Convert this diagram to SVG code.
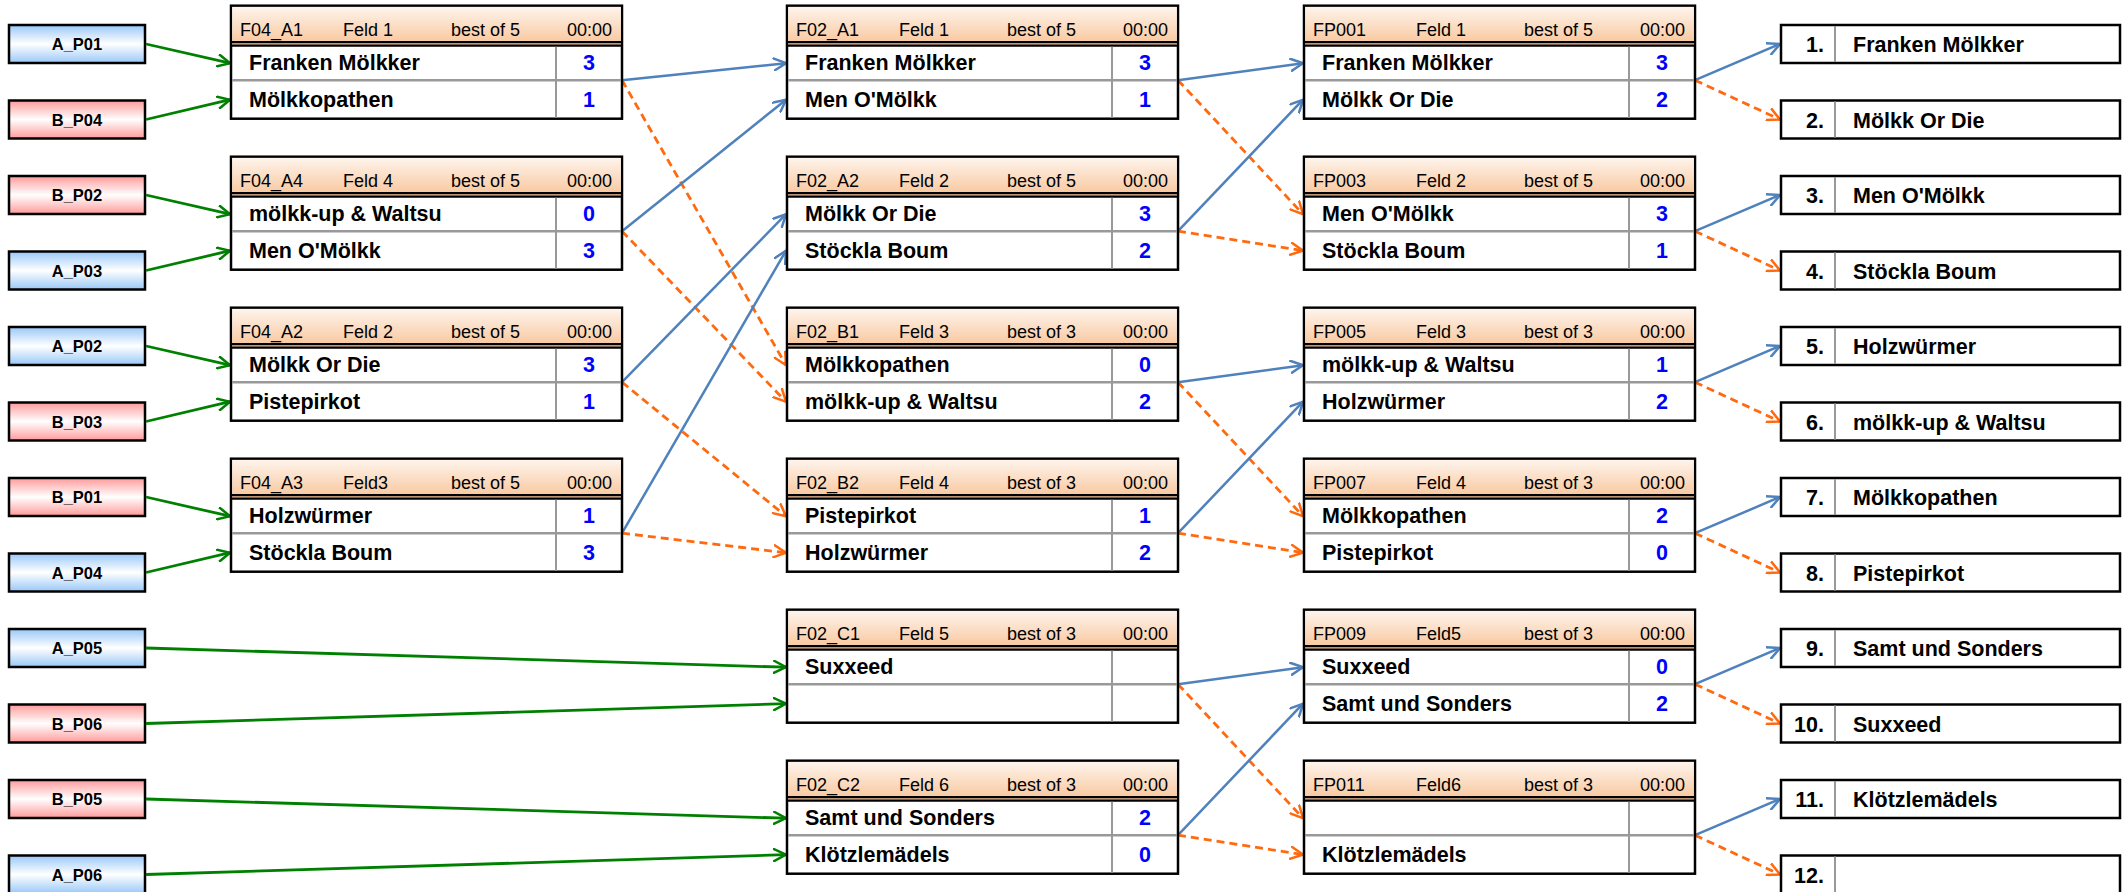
<svg xmlns="http://www.w3.org/2000/svg" width="2127" height="892" viewBox="0 0 2127 892">
<defs>
<linearGradient id="gHdr" x1="0" y1="0" x2="0" y2="1"><stop offset="0" stop-color="#fef4ec"/><stop offset="1" stop-color="#f8c59a"/></linearGradient>
<linearGradient id="gA" x1="0" y1="0" x2="0" y2="1"><stop offset="0" stop-color="#99c8f8"/><stop offset="0.5" stop-color="#ffffff"/><stop offset="1" stop-color="#99c8f8"/></linearGradient>
<linearGradient id="gB" x1="0" y1="0" x2="0" y2="1"><stop offset="0" stop-color="#ff9a9a"/><stop offset="0.5" stop-color="#ffffff"/><stop offset="1" stop-color="#ff9a9a"/></linearGradient>
<marker id="mG" viewBox="0 0 14 14" refX="13" refY="7" markerWidth="14" markerHeight="14" markerUnits="userSpaceOnUse" orient="auto"><path d="M0,0.5 L13,7 L0,13.5" fill="none" stroke="#008000" stroke-width="2.5"/></marker>
<marker id="mB" viewBox="0 0 14 14" refX="13" refY="7" markerWidth="14" markerHeight="14" markerUnits="userSpaceOnUse" orient="auto"><path d="M0,0.5 L13,7 L0,13.5" fill="none" stroke="#4f81bd" stroke-width="2.5"/></marker>
<marker id="mO" viewBox="0 0 14 14" refX="13" refY="7" markerWidth="14" markerHeight="14" markerUnits="userSpaceOnUse" orient="auto"><path d="M0,0.5 L13,7 L0,13.5" fill="none" stroke="#ff6a10" stroke-width="2.5" stroke-dasharray="none"/></marker>
</defs>
<style>
text{font-family:"Liberation Sans",Arial,sans-serif;fill:#000}
.h{font-size:18px}
.t{font-size:21.5px;font-weight:bold}
.s{font-size:21.5px;font-weight:bold;fill:#0000ff;text-anchor:middle}
.in{font-size:16.5px;font-weight:bold;text-anchor:middle}
.r{text-anchor:end}
.box{fill:#fff;stroke:#000;stroke-width:2.5}
.hdr{fill:url(#gHdr)}
.bl{stroke:#000;stroke-width:2.2}
.gl{stroke:#999;stroke-width:2.5}
.gv{stroke:#999;stroke-width:2}
.ia{fill:url(#gA);stroke:#000;stroke-width:2.5}
.ib{fill:url(#gB);stroke:#000;stroke-width:2.5}
.cg{stroke:#008000;stroke-width:2.8;fill:none;marker-end:url(#mG)}
.cb{stroke:#4f81bd;stroke-width:2.5;fill:none;marker-end:url(#mB)}
.co{stroke:#ff6a10;stroke-width:2.8;fill:none;stroke-dasharray:8,5;marker-end:url(#mO)}
</style>
<rect width="2127" height="892" fill="#fff"/>

<g id="inputs">
<g id="A_P01"><rect class="ia" x="9" y="25" width="136" height="38"/><text class="in" x="77" y="50">A_P01</text></g>
<g id="B_P04"><rect class="ib" x="9" y="100.5" width="136" height="38"/><text class="in" x="77" y="125.5">B_P04</text></g>
<g id="B_P02"><rect class="ib" x="9" y="176" width="136" height="38"/><text class="in" x="77" y="201">B_P02</text></g>
<g id="A_P03"><rect class="ia" x="9" y="251.5" width="136" height="38"/><text class="in" x="77" y="276.5">A_P03</text></g>
<g id="A_P02"><rect class="ia" x="9" y="327" width="136" height="38"/><text class="in" x="77" y="352">A_P02</text></g>
<g id="B_P03"><rect class="ib" x="9" y="402.5" width="136" height="38"/><text class="in" x="77" y="427.5">B_P03</text></g>
<g id="B_P01"><rect class="ib" x="9" y="478" width="136" height="38"/><text class="in" x="77" y="503">B_P01</text></g>
<g id="A_P04"><rect class="ia" x="9" y="553.5" width="136" height="38"/><text class="in" x="77" y="578.5">A_P04</text></g>
<g id="A_P05"><rect class="ia" x="9" y="629" width="136" height="38"/><text class="in" x="77" y="654">A_P05</text></g>
<g id="B_P06"><rect class="ib" x="9" y="704.5" width="136" height="38"/><text class="in" x="77" y="729.5">B_P06</text></g>
<g id="B_P05"><rect class="ib" x="9" y="780" width="136" height="38"/><text class="in" x="77" y="805">B_P05</text></g>
<g id="A_P06"><rect class="ia" x="9" y="855.5" width="136" height="38"/><text class="in" x="77" y="880.5">A_P06</text></g>
</g>

<g id="connectors">
<line class="cg" x1="146" y1="44" x2="230" y2="63.2"/>
<line class="cg" x1="146" y1="119.5" x2="230" y2="99.7"/>
<line class="cg" x1="146" y1="195" x2="230" y2="214.2"/>
<line class="cg" x1="146" y1="270.5" x2="230" y2="250.7"/>
<line class="cg" x1="146" y1="346" x2="230" y2="365.2"/>
<line class="cg" x1="146" y1="421.5" x2="230" y2="401.7"/>
<line class="cg" x1="146" y1="497" x2="230" y2="516.2"/>
<line class="cg" x1="146" y1="572.5" x2="230" y2="552.7"/>
<line class="cg" x1="146" y1="648" x2="786" y2="667.2"/>
<line class="cg" x1="146" y1="723.5" x2="786" y2="703.7"/>
<line class="cg" x1="146" y1="799" x2="786" y2="818.2"/>
<line class="cg" x1="146" y1="874.5" x2="786" y2="854.7"/>

<line class="cb" x1="622" y1="80.2" x2="786" y2="63.2"/>
<line class="co" x1="622" y1="80.2" x2="786" y2="365.2"/>
<line class="cb" x1="622" y1="231.2" x2="786" y2="99.7"/>
<line class="co" x1="622" y1="231.2" x2="786" y2="401.7"/>
<line class="cb" x1="622" y1="382.2" x2="786" y2="214.2"/>
<line class="co" x1="622" y1="382.2" x2="786" y2="516.2"/>
<line class="cb" x1="622" y1="533.2" x2="786" y2="250.7"/>
<line class="co" x1="622" y1="533.2" x2="786" y2="552.7"/>

<line class="cb" x1="1178" y1="80.2" x2="1303" y2="63.2"/>
<line class="co" x1="1178" y1="80.2" x2="1303" y2="214.2"/>
<line class="cb" x1="1178" y1="231.2" x2="1303" y2="99.7"/>
<line class="co" x1="1178" y1="231.2" x2="1303" y2="250.7"/>
<line class="cb" x1="1178" y1="382.2" x2="1303" y2="365.2"/>
<line class="co" x1="1178" y1="382.2" x2="1303" y2="516.2"/>
<line class="cb" x1="1178" y1="533.2" x2="1303" y2="401.7"/>
<line class="co" x1="1178" y1="533.2" x2="1303" y2="552.7"/>
<line class="cb" x1="1178" y1="684.2" x2="1303" y2="667.2"/>
<line class="co" x1="1178" y1="684.2" x2="1303" y2="818.2"/>
<line class="cb" x1="1178" y1="835.2" x2="1303" y2="703.7"/>
<line class="co" x1="1178" y1="835.2" x2="1303" y2="854.7"/>

<line class="cb" x1="1695" y1="80.2" x2="1780" y2="44"/>
<line class="co" x1="1695" y1="80.2" x2="1780" y2="119.5"/>
<line class="cb" x1="1695" y1="231.2" x2="1780" y2="195"/>
<line class="co" x1="1695" y1="231.2" x2="1780" y2="270.5"/>
<line class="cb" x1="1695" y1="382.2" x2="1780" y2="346"/>
<line class="co" x1="1695" y1="382.2" x2="1780" y2="421.5"/>
<line class="cb" x1="1695" y1="533.2" x2="1780" y2="497"/>
<line class="co" x1="1695" y1="533.2" x2="1780" y2="572.5"/>
<line class="cb" x1="1695" y1="684.2" x2="1780" y2="648"/>
<line class="co" x1="1695" y1="684.2" x2="1780" y2="723.5"/>
<line class="cb" x1="1695" y1="835.2" x2="1780" y2="799"/>
<line class="co" x1="1695" y1="835.2" x2="1780" y2="874.5"/>
</g>

<g id="F04_A1" transform="translate(231,5.7)">
<rect class="box" x="0" y="0" width="391" height="113"/><rect class="hdr" x="1.2" y="1.2" width="388.6" height="38.5"/>
<line class="bl" x1="0" y1="36.5" x2="391" y2="36.5"/><line class="bl" x1="0" y1="40" x2="391" y2="40"/>
<line class="gl" x1="1" y1="74.5" x2="390" y2="74.5"/><line class="gv" x1="325" y1="41" x2="325" y2="112"/>
<text class="h" x="9" y="30">F04_A1</text><text class="h" x="112" y="30">Feld 1</text><text class="h" x="220" y="30">best of 5</text><text class="h r" x="381" y="30">00:00</text>
<text class="t" x="18" y="64">Franken Mölkker</text><text class="s" x="358" y="64">3</text>
<text class="t" x="18" y="101.5">Mölkkopathen</text><text class="s" x="358" y="101.5">1</text>
</g>
<g id="F04_A4" transform="translate(231,156.7)">
<rect class="box" x="0" y="0" width="391" height="113"/><rect class="hdr" x="1.2" y="1.2" width="388.6" height="38.5"/>
<line class="bl" x1="0" y1="36.5" x2="391" y2="36.5"/><line class="bl" x1="0" y1="40" x2="391" y2="40"/>
<line class="gl" x1="1" y1="74.5" x2="390" y2="74.5"/><line class="gv" x1="325" y1="41" x2="325" y2="112"/>
<text class="h" x="9" y="30">F04_A4</text><text class="h" x="112" y="30">Feld 4</text><text class="h" x="220" y="30">best of 5</text><text class="h r" x="381" y="30">00:00</text>
<text class="t" x="18" y="64">mölkk-up &amp; Waltsu</text><text class="s" x="358" y="64">0</text>
<text class="t" x="18" y="101.5">Men O'Mölkk</text><text class="s" x="358" y="101.5">3</text>
</g>
<g id="F04_A2" transform="translate(231,307.7)">
<rect class="box" x="0" y="0" width="391" height="113"/><rect class="hdr" x="1.2" y="1.2" width="388.6" height="38.5"/>
<line class="bl" x1="0" y1="36.5" x2="391" y2="36.5"/><line class="bl" x1="0" y1="40" x2="391" y2="40"/>
<line class="gl" x1="1" y1="74.5" x2="390" y2="74.5"/><line class="gv" x1="325" y1="41" x2="325" y2="112"/>
<text class="h" x="9" y="30">F04_A2</text><text class="h" x="112" y="30">Feld 2</text><text class="h" x="220" y="30">best of 5</text><text class="h r" x="381" y="30">00:00</text>
<text class="t" x="18" y="64">Mölkk Or Die</text><text class="s" x="358" y="64">3</text>
<text class="t" x="18" y="101.5">Pistepirkot</text><text class="s" x="358" y="101.5">1</text>
</g>
<g id="F04_A3" transform="translate(231,458.7)">
<rect class="box" x="0" y="0" width="391" height="113"/><rect class="hdr" x="1.2" y="1.2" width="388.6" height="38.5"/>
<line class="bl" x1="0" y1="36.5" x2="391" y2="36.5"/><line class="bl" x1="0" y1="40" x2="391" y2="40"/>
<line class="gl" x1="1" y1="74.5" x2="390" y2="74.5"/><line class="gv" x1="325" y1="41" x2="325" y2="112"/>
<text class="h" x="9" y="30">F04_A3</text><text class="h" x="112" y="30">Feld3</text><text class="h" x="220" y="30">best of 5</text><text class="h r" x="381" y="30">00:00</text>
<text class="t" x="18" y="64">Holzwürmer</text><text class="s" x="358" y="64">1</text>
<text class="t" x="18" y="101.5">Stöckla Boum</text><text class="s" x="358" y="101.5">3</text>
</g>

<g id="F02_A1" transform="translate(787,5.7)">
<rect class="box" x="0" y="0" width="391" height="113"/><rect class="hdr" x="1.2" y="1.2" width="388.6" height="38.5"/>
<line class="bl" x1="0" y1="36.5" x2="391" y2="36.5"/><line class="bl" x1="0" y1="40" x2="391" y2="40"/>
<line class="gl" x1="1" y1="74.5" x2="390" y2="74.5"/><line class="gv" x1="325" y1="41" x2="325" y2="112"/>
<text class="h" x="9" y="30">F02_A1</text><text class="h" x="112" y="30">Feld 1</text><text class="h" x="220" y="30">best of 5</text><text class="h r" x="381" y="30">00:00</text>
<text class="t" x="18" y="64">Franken Mölkker</text><text class="s" x="358" y="64">3</text>
<text class="t" x="18" y="101.5">Men O'Mölkk</text><text class="s" x="358" y="101.5">1</text>
</g>
<g id="F02_A2" transform="translate(787,156.7)">
<rect class="box" x="0" y="0" width="391" height="113"/><rect class="hdr" x="1.2" y="1.2" width="388.6" height="38.5"/>
<line class="bl" x1="0" y1="36.5" x2="391" y2="36.5"/><line class="bl" x1="0" y1="40" x2="391" y2="40"/>
<line class="gl" x1="1" y1="74.5" x2="390" y2="74.5"/><line class="gv" x1="325" y1="41" x2="325" y2="112"/>
<text class="h" x="9" y="30">F02_A2</text><text class="h" x="112" y="30">Feld 2</text><text class="h" x="220" y="30">best of 5</text><text class="h r" x="381" y="30">00:00</text>
<text class="t" x="18" y="64">Mölkk Or Die</text><text class="s" x="358" y="64">3</text>
<text class="t" x="18" y="101.5">Stöckla Boum</text><text class="s" x="358" y="101.5">2</text>
</g>
<g id="F02_B1" transform="translate(787,307.7)">
<rect class="box" x="0" y="0" width="391" height="113"/><rect class="hdr" x="1.2" y="1.2" width="388.6" height="38.5"/>
<line class="bl" x1="0" y1="36.5" x2="391" y2="36.5"/><line class="bl" x1="0" y1="40" x2="391" y2="40"/>
<line class="gl" x1="1" y1="74.5" x2="390" y2="74.5"/><line class="gv" x1="325" y1="41" x2="325" y2="112"/>
<text class="h" x="9" y="30">F02_B1</text><text class="h" x="112" y="30">Feld 3</text><text class="h" x="220" y="30">best of 3</text><text class="h r" x="381" y="30">00:00</text>
<text class="t" x="18" y="64">Mölkkopathen</text><text class="s" x="358" y="64">0</text>
<text class="t" x="18" y="101.5">mölkk-up &amp; Waltsu</text><text class="s" x="358" y="101.5">2</text>
</g>
<g id="F02_B2" transform="translate(787,458.7)">
<rect class="box" x="0" y="0" width="391" height="113"/><rect class="hdr" x="1.2" y="1.2" width="388.6" height="38.5"/>
<line class="bl" x1="0" y1="36.5" x2="391" y2="36.5"/><line class="bl" x1="0" y1="40" x2="391" y2="40"/>
<line class="gl" x1="1" y1="74.5" x2="390" y2="74.5"/><line class="gv" x1="325" y1="41" x2="325" y2="112"/>
<text class="h" x="9" y="30">F02_B2</text><text class="h" x="112" y="30">Feld 4</text><text class="h" x="220" y="30">best of 3</text><text class="h r" x="381" y="30">00:00</text>
<text class="t" x="18" y="64">Pistepirkot</text><text class="s" x="358" y="64">1</text>
<text class="t" x="18" y="101.5">Holzwürmer</text><text class="s" x="358" y="101.5">2</text>
</g>
<g id="F02_C1" transform="translate(787,609.7)">
<rect class="box" x="0" y="0" width="391" height="113"/><rect class="hdr" x="1.2" y="1.2" width="388.6" height="38.5"/>
<line class="bl" x1="0" y1="36.5" x2="391" y2="36.5"/><line class="bl" x1="0" y1="40" x2="391" y2="40"/>
<line class="gl" x1="1" y1="74.5" x2="390" y2="74.5"/><line class="gv" x1="325" y1="41" x2="325" y2="112"/>
<text class="h" x="9" y="30">F02_C1</text><text class="h" x="112" y="30">Feld 5</text><text class="h" x="220" y="30">best of 3</text><text class="h r" x="381" y="30">00:00</text>
<text class="t" x="18" y="64">Suxxeed</text>
</g>
<g id="F02_C2" transform="translate(787,760.7)">
<rect class="box" x="0" y="0" width="391" height="113"/><rect class="hdr" x="1.2" y="1.2" width="388.6" height="38.5"/>
<line class="bl" x1="0" y1="36.5" x2="391" y2="36.5"/><line class="bl" x1="0" y1="40" x2="391" y2="40"/>
<line class="gl" x1="1" y1="74.5" x2="390" y2="74.5"/><line class="gv" x1="325" y1="41" x2="325" y2="112"/>
<text class="h" x="9" y="30">F02_C2</text><text class="h" x="112" y="30">Feld 6</text><text class="h" x="220" y="30">best of 3</text><text class="h r" x="381" y="30">00:00</text>
<text class="t" x="18" y="64">Samt und Sonders</text><text class="s" x="358" y="64">2</text>
<text class="t" x="18" y="101.5">Klötzlemädels</text><text class="s" x="358" y="101.5">0</text>
</g>

<g id="FP001" transform="translate(1304,5.7)">
<rect class="box" x="0" y="0" width="391" height="113"/><rect class="hdr" x="1.2" y="1.2" width="388.6" height="38.5"/>
<line class="bl" x1="0" y1="36.5" x2="391" y2="36.5"/><line class="bl" x1="0" y1="40" x2="391" y2="40"/>
<line class="gl" x1="1" y1="74.5" x2="390" y2="74.5"/><line class="gv" x1="325" y1="41" x2="325" y2="112"/>
<text class="h" x="9" y="30">FP001</text><text class="h" x="112" y="30">Feld 1</text><text class="h" x="220" y="30">best of 5</text><text class="h r" x="381" y="30">00:00</text>
<text class="t" x="18" y="64">Franken Mölkker</text><text class="s" x="358" y="64">3</text>
<text class="t" x="18" y="101.5">Mölkk Or Die</text><text class="s" x="358" y="101.5">2</text>
</g>
<g id="FP003" transform="translate(1304,156.7)">
<rect class="box" x="0" y="0" width="391" height="113"/><rect class="hdr" x="1.2" y="1.2" width="388.6" height="38.5"/>
<line class="bl" x1="0" y1="36.5" x2="391" y2="36.5"/><line class="bl" x1="0" y1="40" x2="391" y2="40"/>
<line class="gl" x1="1" y1="74.5" x2="390" y2="74.5"/><line class="gv" x1="325" y1="41" x2="325" y2="112"/>
<text class="h" x="9" y="30">FP003</text><text class="h" x="112" y="30">Feld 2</text><text class="h" x="220" y="30">best of 5</text><text class="h r" x="381" y="30">00:00</text>
<text class="t" x="18" y="64">Men O'Mölkk</text><text class="s" x="358" y="64">3</text>
<text class="t" x="18" y="101.5">Stöckla Boum</text><text class="s" x="358" y="101.5">1</text>
</g>
<g id="FP005" transform="translate(1304,307.7)">
<rect class="box" x="0" y="0" width="391" height="113"/><rect class="hdr" x="1.2" y="1.2" width="388.6" height="38.5"/>
<line class="bl" x1="0" y1="36.5" x2="391" y2="36.5"/><line class="bl" x1="0" y1="40" x2="391" y2="40"/>
<line class="gl" x1="1" y1="74.5" x2="390" y2="74.5"/><line class="gv" x1="325" y1="41" x2="325" y2="112"/>
<text class="h" x="9" y="30">FP005</text><text class="h" x="112" y="30">Feld 3</text><text class="h" x="220" y="30">best of 3</text><text class="h r" x="381" y="30">00:00</text>
<text class="t" x="18" y="64">mölkk-up &amp; Waltsu</text><text class="s" x="358" y="64">1</text>
<text class="t" x="18" y="101.5">Holzwürmer</text><text class="s" x="358" y="101.5">2</text>
</g>
<g id="FP007" transform="translate(1304,458.7)">
<rect class="box" x="0" y="0" width="391" height="113"/><rect class="hdr" x="1.2" y="1.2" width="388.6" height="38.5"/>
<line class="bl" x1="0" y1="36.5" x2="391" y2="36.5"/><line class="bl" x1="0" y1="40" x2="391" y2="40"/>
<line class="gl" x1="1" y1="74.5" x2="390" y2="74.5"/><line class="gv" x1="325" y1="41" x2="325" y2="112"/>
<text class="h" x="9" y="30">FP007</text><text class="h" x="112" y="30">Feld 4</text><text class="h" x="220" y="30">best of 3</text><text class="h r" x="381" y="30">00:00</text>
<text class="t" x="18" y="64">Mölkkopathen</text><text class="s" x="358" y="64">2</text>
<text class="t" x="18" y="101.5">Pistepirkot</text><text class="s" x="358" y="101.5">0</text>
</g>
<g id="FP009" transform="translate(1304,609.7)">
<rect class="box" x="0" y="0" width="391" height="113"/><rect class="hdr" x="1.2" y="1.2" width="388.6" height="38.5"/>
<line class="bl" x1="0" y1="36.5" x2="391" y2="36.5"/><line class="bl" x1="0" y1="40" x2="391" y2="40"/>
<line class="gl" x1="1" y1="74.5" x2="390" y2="74.5"/><line class="gv" x1="325" y1="41" x2="325" y2="112"/>
<text class="h" x="9" y="30">FP009</text><text class="h" x="112" y="30">Feld5</text><text class="h" x="220" y="30">best of 3</text><text class="h r" x="381" y="30">00:00</text>
<text class="t" x="18" y="64">Suxxeed</text><text class="s" x="358" y="64">0</text>
<text class="t" x="18" y="101.5">Samt und Sonders</text><text class="s" x="358" y="101.5">2</text>
</g>
<g id="FP011" transform="translate(1304,760.7)">
<rect class="box" x="0" y="0" width="391" height="113"/><rect class="hdr" x="1.2" y="1.2" width="388.6" height="38.5"/>
<line class="bl" x1="0" y1="36.5" x2="391" y2="36.5"/><line class="bl" x1="0" y1="40" x2="391" y2="40"/>
<line class="gl" x1="1" y1="74.5" x2="390" y2="74.5"/><line class="gv" x1="325" y1="41" x2="325" y2="112"/>
<text class="h" x="9" y="30">FP011</text><text class="h" x="112" y="30">Feld6</text><text class="h" x="220" y="30">best of 3</text><text class="h r" x="381" y="30">00:00</text>
<text class="t" x="18" y="101.5">Klötzlemädels</text>
</g>

<g id="results">
<g id="R1" transform="translate(1781,25)"><rect class="box" width="339" height="38"/><line class="gv" x1="54" y1="1" x2="54" y2="37"/><text class="t r" x="43" y="27">1.</text><text class="t" x="72" y="27">Franken Mölkker</text></g>
<g id="R2" transform="translate(1781,100.5)"><rect class="box" width="339" height="38"/><line class="gv" x1="54" y1="1" x2="54" y2="37"/><text class="t r" x="43" y="27">2.</text><text class="t" x="72" y="27">Mölkk Or Die</text></g>
<g id="R3" transform="translate(1781,176)"><rect class="box" width="339" height="38"/><line class="gv" x1="54" y1="1" x2="54" y2="37"/><text class="t r" x="43" y="27">3.</text><text class="t" x="72" y="27">Men O'Mölkk</text></g>
<g id="R4" transform="translate(1781,251.5)"><rect class="box" width="339" height="38"/><line class="gv" x1="54" y1="1" x2="54" y2="37"/><text class="t r" x="43" y="27">4.</text><text class="t" x="72" y="27">Stöckla Boum</text></g>
<g id="R5" transform="translate(1781,327)"><rect class="box" width="339" height="38"/><line class="gv" x1="54" y1="1" x2="54" y2="37"/><text class="t r" x="43" y="27">5.</text><text class="t" x="72" y="27">Holzwürmer</text></g>
<g id="R6" transform="translate(1781,402.5)"><rect class="box" width="339" height="38"/><line class="gv" x1="54" y1="1" x2="54" y2="37"/><text class="t r" x="43" y="27">6.</text><text class="t" x="72" y="27">mölkk-up &amp; Waltsu</text></g>
<g id="R7" transform="translate(1781,478)"><rect class="box" width="339" height="38"/><line class="gv" x1="54" y1="1" x2="54" y2="37"/><text class="t r" x="43" y="27">7.</text><text class="t" x="72" y="27">Mölkkopathen</text></g>
<g id="R8" transform="translate(1781,553.5)"><rect class="box" width="339" height="38"/><line class="gv" x1="54" y1="1" x2="54" y2="37"/><text class="t r" x="43" y="27">8.</text><text class="t" x="72" y="27">Pistepirkot</text></g>
<g id="R9" transform="translate(1781,629)"><rect class="box" width="339" height="38"/><line class="gv" x1="54" y1="1" x2="54" y2="37"/><text class="t r" x="43" y="27">9.</text><text class="t" x="72" y="27">Samt und Sonders</text></g>
<g id="R10" transform="translate(1781,704.5)"><rect class="box" width="339" height="38"/><line class="gv" x1="54" y1="1" x2="54" y2="37"/><text class="t r" x="43" y="27">10.</text><text class="t" x="72" y="27">Suxxeed</text></g>
<g id="R11" transform="translate(1781,780)"><rect class="box" width="339" height="38"/><line class="gv" x1="54" y1="1" x2="54" y2="37"/><text class="t r" x="43" y="27">11.</text><text class="t" x="72" y="27">Klötzlemädels</text></g>
<g id="R12" transform="translate(1781,855.5)"><rect class="box" width="339" height="38"/><line class="gv" x1="54" y1="1" x2="54" y2="37"/><text class="t r" x="43" y="27">12.</text></g>
</g>
</svg>
